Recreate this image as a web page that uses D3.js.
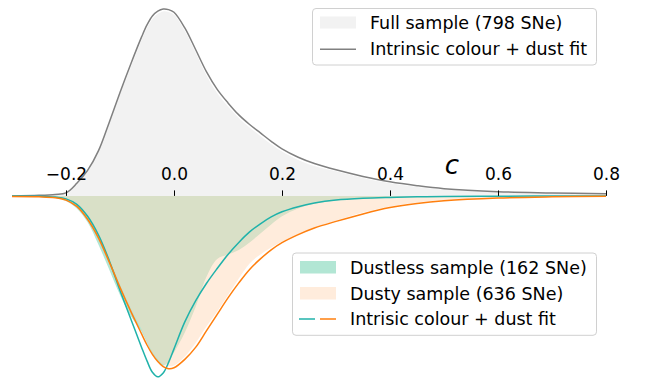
<!DOCTYPE html>
<html>
<head>
<meta charset="utf-8">
<script src="https://cdn.jsdelivr.net/npm/d3@7"></script>
<style>
  html, body { margin: 0; padding: 0; background: #fff; }
  svg { display: block; }
  text { font-family: "DejaVu Sans", sans-serif; }
</style>
</head>
<body>
<div id="chart"></div>
<script>
// ---------- data ----------
const cGrid = [-0.30,-0.25,-0.22,-0.20,-0.18,-0.16,-0.14,-0.12,-0.10,-0.08,-0.06,-0.05,-0.04,-0.03,-0.02,-0.01,0.00,0.02,0.04,0.06,0.08,0.10,0.12,0.14,0.16,0.18,0.20,0.23,0.26,0.30,0.35,0.40,0.45,0.50,0.60,0.70,0.80];

// full sample KDE (upwards)
const fullKde = [0,0.02,0.06,0.12,0.45,0.9,1.55,2.45,3.4,4.3,5.2,5.6,5.9,6.07,6.15,6.13,6.04,5.5,4.78,4.02,3.42,2.98,2.6,2.28,2.0,1.72,1.48,1.2,1.0,0.82,0.6,0.42,0.3,0.21,0.12,0.08,0.05];
// full sample fit
const fullFit = [0,0.02,0.05,0.1,0.42,0.85,1.5,2.45,3.45,4.4,5.3,5.7,6.0,6.16,6.23,6.21,6.12,5.6,4.88,4.14,3.55,3.1,2.7,2.38,2.1,1.82,1.57,1.29,1.08,0.87,0.65,0.47,0.34,0.24,0.14,0.1,0.07];

// dustless sample KDE (downwards)
const dustlessKde = [0,-0.02,-0.07,-0.17,-0.42,-0.88,-1.62,-2.45,-3.3,-4.0,-4.52,-4.9,-5.25,-5.5,-5.66,-5.52,-5.22,-4.55,-3.7,-2.7,-2.1,-1.95,-1.8,-1.55,-1.25,-0.95,-0.68,-0.42,-0.26,-0.15,-0.08,-0.04,-0.02,-0.01,0,0,0];
// dusty sample KDE (downwards)
const dustyKde = [0,-0.02,-0.05,-0.12,-0.32,-0.72,-1.3,-2.1,-2.95,-3.75,-4.45,-4.85,-5.2,-5.45,-5.62,-5.68,-5.65,-5.35,-4.9,-4.35,-3.85,-3.3,-2.75,-2.25,-1.95,-1.72,-1.52,-1.3,-1.08,-0.82,-0.55,-0.35,-0.22,-0.14,-0.06,-0.03,-0.01];
// dustless fit
const dustlessFit = [0,-0.01,-0.04,-0.1,-0.28,-0.68,-1.3,-2.15,-3.15,-4.1,-5.05,-5.5,-5.88,-6.03,-5.9,-5.55,-5.1,-4.2,-3.5,-2.92,-2.42,-1.95,-1.55,-1.2,-0.93,-0.7,-0.53,-0.36,-0.24,-0.14,-0.08,-0.05,-0.03,-0.02,-0.01,-0.005,0];
// dusty fit
const dustyFit = [-0.02,-0.03,-0.06,-0.14,-0.35,-0.78,-1.4,-2.2,-3.05,-3.85,-4.6,-4.97,-5.28,-5.52,-5.69,-5.76,-5.73,-5.45,-5.05,-4.5,-3.95,-3.4,-2.9,-2.45,-2.1,-1.8,-1.56,-1.29,-1.07,-0.85,-0.6,-0.39,-0.25,-0.16,-0.07,-0.03,-0.01];

const tickValues = [-0.2, 0.0, 0.2, 0.4, 0.6, 0.8];
const xDomain = [-0.3, 0.8];
const yDomain = [-6.07, 6.53];

const legendTopLabels = ["Full sample (798 SNe)", "Intrinsic colour + dust fit"];
const legendBottomLabels = ["Dustless sample (162 SNe)", "Dusty sample (636 SNe)", "Intrisic colour + dust fit"];

// ---------- chart ----------
const W = 646, H = 378;
const svg = d3.select("#chart").append("svg").attr("width", W).attr("height", H);

const x = d3.scaleLinear().domain(xDomain).range([12, 606]);
const y = d3.scaleLinear().domain(yDomain).range([H, 0]);

const pts = arr => cGrid.map((c, i) => [c, arr[i]]);
const curve = d3.curveCatmullRom.alpha(0.5);
const area = d3.area().x(d => x(d[0])).y0(y(0)).y1(d => y(d[1])).curve(curve);
const line = d3.line().x(d => x(d[0])).y(d => y(d[1])).curve(curve);

const colGrey = "#808080", colTeal = "#20b2aa", colOrange = "#ff7f0e";
const fillGrey = "#f2f2f2", fillTeal = "#b2e6d4", fillPeach = "rgba(255,218,185,0.5)";

svg.append("path").attr("d", area(pts(fullKde))).attr("fill", fillGrey);
svg.append("path").attr("d", line(pts(fullFit))).attr("fill", "none").attr("stroke", colGrey).attr("stroke-width", 1.5);
svg.append("path").attr("d", area(pts(dustlessKde))).attr("fill", fillTeal);
svg.append("path").attr("d", area(pts(dustyKde))).attr("fill", fillPeach);
svg.append("path").attr("d", line(pts(dustlessFit))).attr("fill", "none").attr("stroke", colTeal).attr("stroke-width", 1.5);
svg.append("path").attr("d", line(pts(dustyFit))).attr("fill", "none").attr("stroke", colOrange).attr("stroke-width", 1.5);

// axis
const axis = d3.axisTop(x).tickValues(tickValues).tickSize(5.5).tickPadding(10.5).tickFormat(d3.format(".1f"));
const gAxis = svg.append("g").attr("transform", `translate(0,${y(0)})`).call(axis);
gAxis.select(".domain").remove();
gAxis.selectAll(".tick line").attr("stroke", "#000").attr("stroke-width", 1);
gAxis.selectAll(".tick text").attr("fill", "#000").style("font-size", "17px").style("font-family", "DejaVu Sans");

svg.append("text").attr("x", 452).attr("y", 173.5).attr("text-anchor", "middle")
  .style("font-size", "26px").style("font-style", "italic").text("c");

// legends
function legendBox(x0, y0, x1, y1) {
  svg.append("rect").attr("x", x0).attr("y", y0).attr("width", x1 - x0).attr("height", y1 - y0)
    .attr("rx", 3.5).attr("fill", "rgba(255,255,255,0.8)").attr("stroke", "#d0d0d0").attr("stroke-width", 1);
}
legendBox(312.5, 8.5, 596.5, 65);
svg.append("rect").attr("x", 320).attr("y", 16.5).attr("width", 36).attr("height", 12).attr("fill", fillGrey);
svg.append("line").attr("x1", 320).attr("x2", 356).attr("y1", 49.3).attr("y2", 49.3).attr("stroke", colGrey).attr("stroke-width", 1.5);
svg.selectAll(".ltop").data(legendTopLabels).enter().append("text")
  .attr("x", 370).attr("y", (d, i) => [28.5, 55][i]).style("font-size", "17.5px").attr("fill", "#000").text(d => d);

legendBox(292.5, 253, 596.5, 335.3);
svg.append("rect").attr("x", 300).attr("y", 261).attr("width", 36).attr("height", 12.5).attr("fill", fillTeal);
svg.append("rect").attr("x", 300).attr("y", 287).attr("width", 36).attr("height", 12.5).attr("fill", fillPeach);
svg.append("line").attr("x1", 299).attr("x2", 315).attr("y1", 319).attr("y2", 319).attr("stroke", colTeal).attr("stroke-width", 1.5);
svg.append("line").attr("x1", 320).attr("x2", 336).attr("y1", 319).attr("y2", 319).attr("stroke", colOrange).attr("stroke-width", 1.5);
svg.selectAll(".lbot").data(legendBottomLabels).enter().append("text")
  .attr("x", 350).attr("y", (d, i) => [274, 299.7, 325.3][i]).style("font-size", "17.5px").attr("fill", "#000").text(d => d);
</script>
</body>
</html>
